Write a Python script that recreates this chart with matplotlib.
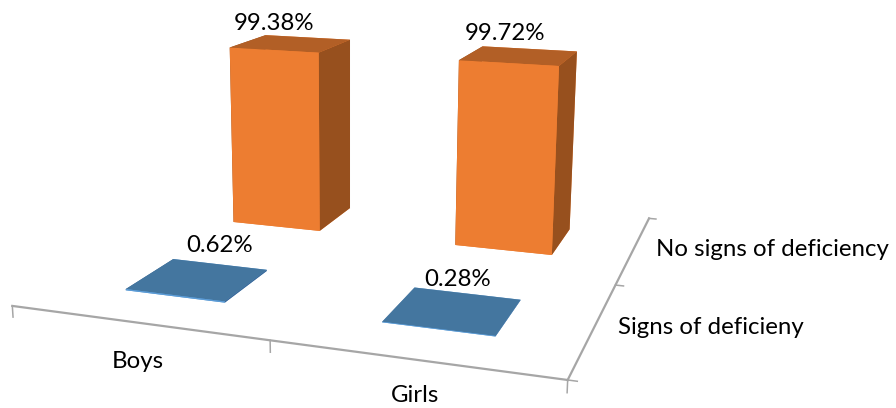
import matplotlib
matplotlib.use('Agg')
import matplotlib.pyplot as plt

plt.rcParams['font.family'] = ['Lato', 'DejaVu Sans']

groups = ['Boys', 'Girls']
statuses = ['Signs of deficieny', 'No signs of deficiency']
signs_vals = [0.62, 0.28]
no_signs_vals = [99.38, 99.72]

W, H = 896, 408
AX_SIZE = 709.6
bar_w = 0.402
bar_d = 0.401

blue_faces = ['#5B9BD5', '#44769F', '#5B9BD5', '#5B9BD5', '#3A6491', '#3A6491']
orange_faces = ['#ED7D31', '#B25F26', '#ED7D31', '#ED7D31', '#97501E', '#97501E']
axis_col = '#A6A6A6'

fig = plt.figure(figsize=(W / 100, H / 100), dpi=100)
ax = fig.add_axes([-0.2 / W, -120.2 / H, AX_SIZE / W, AX_SIZE / H], projection='3d',
                  proj_type='persp', focal_length=0.3476)
ax.view_init(elev=13.84, azim=-70.87, roll=-0.149)
ax.set_box_aspect((1, 0.9533, 0.3857))
ax.set_xlim(0, 2)
ax.set_ylim(0, 2)
ax.set_zlim(0, 100)
ax.set_axis_off()

# barras: linha da frente azul, linha de tras laranja
for row, (vals, faces) in enumerate([(signs_vals, blue_faces), (no_signs_vals, orange_faces)]):
    for i, v in enumerate(vals):
        ax.bar3d(i + 0.5 - bar_w / 2, row + 0.5 - bar_d / 2, 0, bar_w, bar_d, v,
                 color=faces, shade=False, linewidth=0.4, edgecolor=None)

# eixos no chao
n_groups = len(groups)
n_rows = len(statuses)
ax.plot([0, n_groups], [0, 0], [0, 0], color=axis_col, lw=1.6)
ax.plot([n_groups, n_groups], [0, n_rows], [0, 0], color=axis_col, lw=1.6)
for i in range(n_groups + 1):
    ax.plot([i, i], [0, 0], [0, -5.5], color=axis_col, lw=1.1)
for j in range(n_rows + 1):
    ax.plot([n_groups, n_groups + 0.03], [j, j], [0, 0], color=axis_col, lw=1.1)

# rotulos
def label(px, py, s, ha='center'):
    fig.text(px / W, 1 - py / H, s, ha=ha, va='center', fontsize=17.3, color='black')


label(274, 23, f'{no_signs_vals[0]:.2f}%')
label(505, 34, f'{no_signs_vals[1]:.2f}%')
label(220, 246, f'{signs_vals[0]:.2f}%')
label(458, 280, f'{signs_vals[1]:.2f}%')
label(138, 361, groups[0])
label(415, 396, groups[1])
label(618, 328, statuses[0], ha='left')
label(656, 249, statuses[1], ha='left')

fig.savefig('out.png', dpi=100)
